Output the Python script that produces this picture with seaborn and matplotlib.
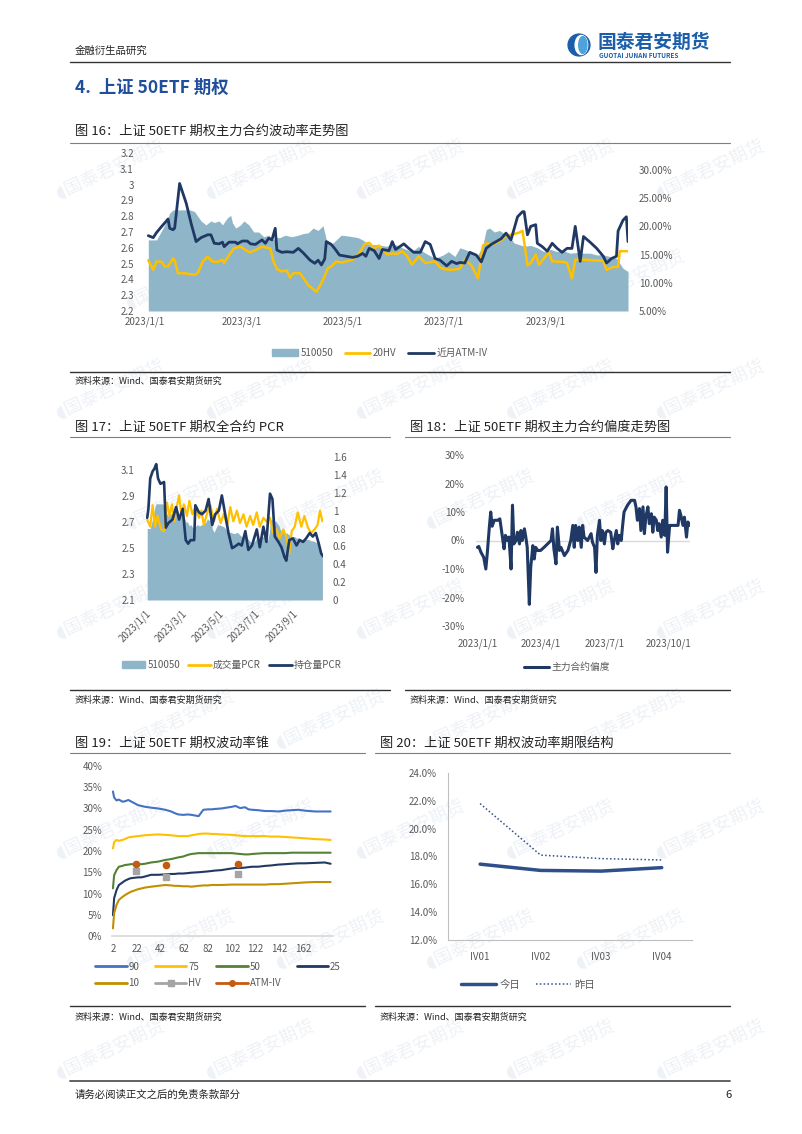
import numpy as np
import pandas as pd
import matplotlib
matplotlib.use("Agg")
import matplotlib.pyplot as plt
import seaborn as sns
from matplotlib.lines import Line2D
from matplotlib.patches import Patch, Circle, Ellipse

# ---------------- data ----------------
# 510050 ETF close, day offsets from 2023-01-03
etf_day = [0, 5, 10, 13, 15, 25, 28, 30, 32, 35, 38, 40, 43, 45, 48, 50, 51, 53, 56, 58, 61, 64, 67,
           70, 73, 76, 78, 80, 83, 87, 91, 94, 97, 100, 103, 106, 108, 111, 114, 117, 121, 124, 127,
           130, 134, 139, 144, 150, 154, 160, 164, 166, 170, 174, 179, 182, 186, 189, 192, 196, 200,
           203, 205, 207, 210, 213, 216, 219, 222, 225, 228, 232, 236, 240, 244, 248, 252, 256, 260,
           264, 268, 272, 276, 280, 284, 288, 291]
etf_px = [2.65, 2.65, 2.745, 2.82, 2.84, 2.84, 2.83, 2.80, 2.77, 2.745, 2.77, 2.76, 2.77, 2.745, 2.79,
          2.805, 2.76, 2.725, 2.745, 2.77, 2.745, 2.70, 2.70, 2.67, 2.68, 2.65, 2.665, 2.665, 2.68,
          2.67, 2.68, 2.69, 2.695, 2.725, 2.71, 2.74, 2.65, 2.62, 2.65, 2.68, 2.675, 2.67, 2.665,
          2.65, 2.62, 2.62, 2.61, 2.62, 2.60, 2.576, 2.61, 2.58, 2.555, 2.534, 2.555, 2.576, 2.545,
          2.60, 2.59, 2.57, 2.555, 2.62, 2.715, 2.725, 2.70, 2.71, 2.69, 2.67, 2.63, 2.62, 2.61,
          2.615, 2.60, 2.576, 2.59, 2.576, 2.58, 2.566, 2.57, 2.566, 2.566, 2.555, 2.555, 2.545,
          2.534, 2.47, 2.45]

# 20-day historical volatility (%)
hv_day = [0, 3, 5, 8, 10, 12, 15, 16, 18, 22, 28, 30, 33, 36, 39, 42, 45, 46, 49, 52, 56, 60, 62, 65,
          69, 74, 76, 78, 81, 84, 86, 88, 92, 97, 102, 104, 106, 109, 111, 114, 118, 124, 128, 131,
          134, 137, 140, 145, 148, 151, 154, 157, 160, 164, 168, 174, 177, 180, 184, 189, 192, 196,
          200, 203, 205, 209, 214, 217, 220, 225, 227, 228, 230, 232, 235, 237, 240, 243, 245, 252,
          254, 257, 259, 264, 276, 278, 282, 285, 286, 291]
hv_val = [14.0, 12.3, 13.75, 13.75, 12.9, 12.9, 14.3, 14.0, 11.7, 11.7, 11.4, 11.7, 13.75, 14.6,
          13.75, 13.7, 14.1, 13.5, 14.9, 16.1, 16.4, 15.6, 15.4, 15.8, 16.4, 16.1, 13.75, 12.45,
          12.0, 12.2, 10.9, 11.7, 11.7, 9.6, 8.4, 9.4, 10.5, 12.6, 12.9, 13.75, 13.6, 14.1, 15.2,
          16.8, 17.1, 16.1, 16.6, 15.0, 15.2, 15.1, 15.6, 14.7, 13.2, 14.7, 13.5, 13.8, 12.7, 12.4,
          12.3, 12.5, 14.1, 13.1, 10.8, 16.6, 17.0, 16.8, 17.5, 18.4, 18.5, 18.9, 19.2, 17.3, 13.1,
          13.5, 15.0, 13.2, 14.3, 15.4, 13.8, 13.7, 13.5, 10.8, 14.1, 14.1, 13.9, 12.3, 12.8, 12.8,
          15.6, 15.6]

# near-month ATM implied volatility (%)
iv_day = [0, 3, 5, 8, 11, 12, 13, 15, 16, 19, 23, 26, 29, 32, 36, 38, 40, 43, 45, 46, 49, 53, 54, 57,
          60, 62, 65, 67, 69, 71, 73, 75, 77, 78, 81, 84, 88, 91, 94, 98, 101, 103, 105, 107, 108,
          111, 113, 116, 120, 124, 127, 130, 132, 134, 137, 140, 142, 146, 148, 150, 155, 158, 161,
          165, 168, 171, 174, 177, 181, 184, 187, 189, 192, 195, 199, 202, 205, 208, 211, 214, 217,
          220, 224, 227, 228, 230, 232, 235, 236, 239, 242, 245, 248, 251, 254, 257, 259, 262, 264,
          268, 272, 276, 278, 281, 284, 285, 288, 290, 291]
iv_val = [18.35, 18.0, 18.9, 19.95, 20.96, 21.3, 19.66, 19.4, 19.7, 27.6, 24.1, 20.5, 17.3, 18.0,
          18.5, 18.5, 17.0, 16.9, 17.2, 16.4, 17.2, 17.2, 16.9, 17.4, 17.4, 16.9, 16.8, 17.2, 17.6,
          17.0, 17.9, 17.6, 19.66, 15.8, 15.4, 15.5, 15.4, 16.1, 15.3, 14.04, 13.45, 14.0, 13.16,
          14.2, 17.3, 16.8, 16.1, 14.9, 14.7, 14.5, 14.7, 15.2, 14.7, 16.1, 15.7, 14.3, 15.9, 15.7,
          17.3, 15.9, 16.9, 16.1, 15.4, 15.4, 17.3, 16.8, 14.3, 14.0, 13.0, 13.8, 13.4, 13.6, 13.5,
          15.4, 14.9, 13.7, 16.1, 16.8, 17.3, 17.8, 18.8, 17.6, 21.7, 22.6, 22.6, 18.5, 20.0, 20.3,
          17.0, 16.4, 15.6, 17.0, 16.1, 15.4, 16.1, 16.1, 20.0, 13.8, 18.2, 17.2, 16.1, 14.7, 13.5,
          14.3, 14.7, 19.2, 21.1, 21.7, 17.3]

# all-contract PCR
oi_day = [0, 2, 5, 9, 12, 15, 18, 22, 28, 31, 35, 42, 48, 53, 59, 64, 68, 72, 78, 80, 86, 91, 97, 102,
          108, 113, 119, 124, 130, 135, 141, 146, 152, 157, 163, 168, 174, 182, 187, 193, 198, 204,
          208, 212, 218, 223, 228, 231, 236, 242, 248, 253, 259, 264, 270, 275, 280, 285, 289, 292]
oi_pcr = [0.92, 1.02, 1.36, 1.44, 1.47, 1.52, 1.36, 1.30, 1.32, 0.81, 0.86, 0.90, 1.04, 0.90, 1.02,
          0.67, 0.63, 0.67, 0.67, 1.06, 0.98, 0.96, 1.00, 1.13, 0.84, 0.96, 1.00, 1.17, 0.94, 0.75,
          0.58, 0.60, 0.63, 0.61, 0.77, 0.56, 0.61, 0.79, 0.59, 0.82, 0.65, 1.19, 1.13, 0.71, 0.65,
          0.59, 0.48, 0.44, 0.67, 0.69, 0.61, 0.67, 0.65, 0.69, 0.75, 0.71, 0.75, 0.63, 0.52, 0.49]
vol_day = [0, 5, 9, 13, 17, 23, 28, 33, 37, 41, 45, 49, 53, 57, 61, 66, 70, 75, 80, 86, 90, 94, 100,
           105, 111, 116, 122, 127, 133, 138, 143, 149, 154, 160, 165, 171, 176, 182, 187, 193, 198,
           204, 209, 215, 220, 226, 231, 236, 240, 245, 250, 256, 261, 267, 272, 278, 283, 287, 291]
vol_pcr = [0.90, 0.82, 1.06, 0.82, 0.94, 0.79, 0.77, 1.09, 0.94, 1.07, 0.88, 1.04, 1.17, 0.94, 1.07,
           0.94, 1.11, 0.96, 1.04, 0.92, 1.00, 0.84, 0.98, 1.06, 0.88, 1.02, 0.86, 0.96, 0.84, 1.04,
           0.88, 1.00, 0.86, 0.96, 0.82, 0.94, 0.84, 0.98, 0.82, 0.92, 0.88, 0.92, 0.75, 0.79, 0.69,
           0.79, 0.71, 0.52, 0.77, 0.82, 0.98, 0.82, 0.94, 0.81, 0.75, 0.79, 0.84, 1.00, 0.88]

# main-contract skew (%), day offsets from 2023-01-01
skew_day = [0, 2, 5, 9, 12, 14, 17, 19, 21, 24, 29, 32, 36, 38, 40, 43, 45, 48, 50, 52, 55, 57, 60, 62,
            64, 67, 69, 71, 74, 76, 79, 81, 83, 86, 90, 95, 100, 105, 107, 109, 112, 114, 117, 119,
            124, 129, 133, 136, 138, 140, 143, 145, 148, 150, 152, 157, 162, 164, 167, 169, 171, 174,
            176, 178, 181, 183, 186, 190, 193, 195, 198, 200, 202, 205, 207, 209, 214, 219, 224, 226,
            228, 231, 233, 236, 238, 240, 243, 245, 248, 250, 252, 255, 257, 259, 262, 264, 267, 269,
            271, 274, 276, 281, 286, 288, 290, 293, 295, 298, 300, 302]
skew_val = [-2.4, -2.1, -4.1, -5.9, -10.0, -4.7, 4.7, 10.0, 5.0, 7.1, 7.1, 7.6, 0.6, -2.9, 1.8, 0.0,
            1.2, -10.0, 12.4, -1.2, 0.0, 2.9, -1.2, 3.5, 0.0, 4.1, 1.2, -2.4, -22.4, -9.4, -1.8,
            -6.5, -2.4, -3.5, -3.5, -2.4, -1.2, 0.0, 4.1, -2.9, -8.2, 4.7, -3.5, -2.4, -5.3, -3.5,
            0.0, 5.3, -2.4, 5.3, 0.0, 4.7, -2.4, 5.3, 1.2, 0.0, 2.4, -0.6, -2.4, -11.2, 1.8, 7.1,
            0.0, 3.5, -1.2, 2.9, 3.5, 2.9, -2.9, 0.0, 3.5, -1.2, 1.8, 0.0, 5.3, 10.0, 12.4, 14.1,
            14.1, 11.8, 7.1, 11.2, 3.5, 11.8, 2.4, 8.2, 11.8, 5.9, 9.4, 2.9, 8.2, 7.1, 3.5, 5.9, 1.2,
            7.1, 1.8, 18.8, -4.1, 5.3, 5.3, 5.3, 5.3, 10.6, 8.8, 5.3, 8.2, 1.2, 6.5, 5.3]

# volatility cone (%), x = days
cone_x = [2, 3, 5, 7, 10, 12, 15, 17, 23, 26, 29, 34, 40, 46, 51, 54, 57, 61, 65, 68, 74, 78, 82, 85,
          88, 93, 102, 105, 109, 113, 116, 119, 124, 130, 135, 141, 147, 152, 158, 163, 172, 180, 185]
cone_90 = [34.0, 32.6, 31.9, 32.1, 31.6, 31.7, 32.0, 31.7, 30.8, 30.6, 30.4, 30.2, 30.0, 29.7, 29.3,
           28.9, 28.6, 28.5, 28.6, 28.5, 28.2, 29.7, 29.8, 29.8, 29.9, 30.0, 30.4, 30.6, 30.1, 30.3,
           29.8, 29.7, 29.6, 29.4, 29.4, 29.3, 29.5, 29.6, 29.7, 29.5, 29.3, 29.3, 29.3]
cone_75 = [20.6, 22.1, 22.6, 22.4, 22.6, 22.8, 23.2, 23.3, 23.5, 23.6, 23.7, 23.8, 23.9, 23.8, 23.7,
           23.6, 23.5, 23.5, 23.5, 23.7, 24.0, 24.1, 24.1, 24.0, 24.0, 23.9, 23.8, 23.7, 23.6, 23.5,
           23.5, 23.5, 23.5, 23.5, 23.4, 23.4, 23.3, 23.2, 23.1, 23.0, 22.8, 22.7, 22.6]
cone_50 = [11.2, 14.3, 15.5, 16.3, 16.5, 16.7, 16.8, 16.9, 16.9, 16.9, 17.0, 17.3, 17.5, 17.9, 18.1,
           18.3, 18.5, 18.7, 19.1, 19.3, 19.5, 19.5, 19.5, 19.5, 19.5, 19.5, 19.5, 19.4, 19.3, 19.2,
           19.2, 19.3, 19.4, 19.5, 19.5, 19.5, 19.5, 19.6, 19.6, 19.6, 19.6, 19.6, 19.6]
cone_25 = [4.9, 8.9, 10.8, 12.0, 12.6, 13.0, 13.4, 13.6, 13.8, 13.8, 14.0, 14.4, 14.4, 14.5, 14.6,
           14.6, 14.7, 14.7, 14.8, 14.9, 15.0, 15.1, 15.2, 15.3, 15.4, 15.5, 15.9, 16.0, 16.0, 16.1,
           16.2, 16.3, 16.3, 16.5, 16.6, 16.8, 16.9, 17.0, 17.1, 17.1, 17.2, 17.3, 17.0]
cone_10 = [1.8, 5.4, 7.3, 8.5, 9.2, 9.6, 10.1, 10.4, 11.0, 11.2, 11.4, 11.6, 11.8, 12.0, 11.9, 11.8,
           11.8, 11.7, 11.7, 11.6, 11.8, 11.9, 11.9, 12.0, 12.0, 12.0, 12.1, 12.1, 12.1, 12.1, 12.1,
           12.1, 12.1, 12.1, 12.2, 12.2, 12.3, 12.4, 12.5, 12.6, 12.7, 12.7, 12.7]
hv_pt_x = [21, 47, 107]
hv_pt = [15.3, 13.8, 14.5]
atm_pt_x = [21, 47, 107]
atm_pt = [16.9, 16.7, 17.0]

# term structure
term_cat = ["IV01", "IV02", "IV03", "IV04"]
term_today = [17.45, 17.0, 16.95, 17.2]
term_yday = [21.8, 18.1, 17.85, 17.75]

# ---------------- style ----------------
sns.set_theme(style="white")
plt.rcParams["font.family"] = ["Noto Sans CJK SC", "DejaVu Sans"]
plt.rcParams["axes.unicode_minus"] = False

AREA = "#8FB6C8"
YEL = "#FFC000"
NAVY = "#1F3864"
GREY_T = "#595959"
W, H = 802, 1134

fig = plt.figure(figsize=(W / 100, H / 100), dpi=100)
fig.patch.set_facecolor("white")


def box(x0, y0, x1, y1):
    return [x0 / W, 1 - y1 / H, (x1 - x0) / W, (y1 - y0) / H]


def hline(y, x0, x1, color="#7f7f7f", lw=0.8):
    fig.add_artist(Line2D([x0 / W, x1 / W], [1 - y / H, 1 - y / H], color=color, lw=lw,
                          transform=fig.transFigure))


def ftext(x, y, s, **kw):
    kw.setdefault("va", "center")
    fig.text(x / W, 1 - y / H, s, **kw)


def clean(ax):
    for s in ax.spines.values():
        s.set_visible(False)
    ax.grid(False)
    ax.set_facecolor("none")
    ax.tick_params(length=0, labelsize=7, labelcolor=GREY_T)
    ax.set_xlabel("")
    ax.set_ylabel("")


def days(base, d):
    return pd.Timestamp(base) + pd.to_timedelta(d, unit="D")


# faint company watermark behind everything, kept inside the page
for r, wy in enumerate(range(170, 1060, 110)):
    for wx in range(110 + (r % 2) * 70, 720, 150):
        fig.text(wx / W, 1 - wy / H, "◖国泰君安期货", fontsize=13, color="#EEF2F6",
                 rotation=25, ha="center", va="center", zorder=-5,
                 family=["DejaVu Sans", "Noto Sans CJK SC"])

# ---------------- page header / footer ----------------
ftext(75, 51, "金融衍生品研究", fontsize=7.5, color="#222222")
lax = fig.add_axes(box(567, 33, 591, 57))
lax.set_xlim(-1.1, 1.1)
lax.set_ylim(-1.1, 1.1)
lax.set_aspect("equal")
lax.axis("off")
lax.add_patch(Circle((0, 0), 1, color="#1B5FAA"))
lax.add_patch(Ellipse((0.22, 0), 1.15, 1.75, color="white"))
lax.add_patch(Ellipse((0.35, 0), 0.75, 1.55, color="#4FA3DC"))
ftext(598, 42, "国泰君安期货", fontsize=13.5, color="#1B5FAA", fontweight="bold")
ftext(599, 55, "GUOTAI JUNAN FUTURES", fontsize=4.6, color="#1B5FAA", fontweight="bold")
hline(62, 70, 730, color="#333333", lw=1.0)

ftext(75, 88, "4.  上证 50ETF 期权", fontsize=12.5, color="#1F4E9C", fontweight="bold")

hline(1081, 70, 730, color="#555555", lw=1.3)
ftext(75, 1095, "请务必阅读正文之后的免责条款部分", fontsize=7.5, color="#222222")
ftext(725, 1095, "6", fontsize=8, color="#222222")

SRC = "资料来源：Wind、国泰君安期货研究"

# ---------------- 图16 ----------------
ftext(75, 131, "图 16：上证 50ETF 期权主力合约波动率走势图", fontsize=9.5, color="#222222")
hline(143, 70, 730)
ax = fig.add_axes(box(145, 153, 628, 311))
ax.fill_between(days("2023-01-03", etf_day), 2.2, etf_px, color=AREA, lw=0)
ax.set_ylim(2.2, 3.2)
yt = np.round(np.arange(2.2, 3.21, 0.1), 1)
ax.set_yticks(yt)
ax.set_yticklabels([f"{v:g}" for v in yt])
xt = pd.to_datetime(["2023-01-01", "2023-03-01", "2023-05-01", "2023-07-01", "2023-09-01"])
ax.set_xticks(xt)
ax.set_xticklabels([d.strftime("%Y/%-m/%-d") for d in xt])
ax.set_xlim(pd.Timestamp("2023-01-01"), pd.Timestamp("2023-10-21"))
ax2 = ax.twinx()
sns.lineplot(x=days("2023-01-03", hv_day), y=np.array(hv_val) / 100, ax=ax2, color=YEL, lw=1.8,
             estimator=None, sort=False)
sns.lineplot(x=days("2023-01-03", iv_day), y=np.array(iv_val) / 100, ax=ax2, color=NAVY, lw=2.0,
             estimator=None, sort=False)
ax2.set_ylim(0.05, 0.33)
rt = [0.05, 0.10, 0.15, 0.20, 0.25, 0.30]
ax2.set_yticks(rt)
ax2.set_yticklabels([f"{v:.2%}" for v in rt])
for a in (ax, ax2):
    clean(a)
ax.tick_params(axis="y", pad=8)
ax.tick_params(axis="x", pad=4)
ax2.tick_params(axis="y", pad=8)
fig.legend(handles=[Patch(color=AREA, label="510050"),
                    Line2D([], [], color=YEL, lw=2, label="20HV"),
                    Line2D([], [], color=NAVY, lw=2, label="近月ATM-IV")],
           loc="center", bbox_to_anchor=(380 / W, 1 - 353 / H), ncol=3, frameon=False,
           fontsize=7, handlelength=2.6, columnspacing=1.2, handletextpad=0.3,
           labelcolor=GREY_T)
hline(372, 70, 730, color="#333333", lw=1.0)
ftext(75, 381, SRC, fontsize=6.5, color="#222222")

# ---------------- 图17 ----------------
ftext(75, 427, "图 17：上证 50ETF 期权全合约 PCR", fontsize=9.5, color="#222222")
hline(437, 70, 390)
ax = fig.add_axes(box(146, 457, 323, 600))
ax.fill_between(days("2023-01-03", etf_day), 2.1, etf_px, color=AREA, lw=0)
ax.set_ylim(2.1, 3.2)
yt = np.round(np.arange(2.1, 3.11, 0.2), 1)
ax.set_yticks(yt)
ax.set_yticklabels([f"{v:g}" for v in yt])
ax.set_xticks(xt)
ax.set_xticklabels([d.strftime("%Y/%-m/%-d") for d in xt], rotation=45, ha="right",
                   rotation_mode="anchor")
ax.set_xlim(pd.Timestamp("2023-01-01"), pd.Timestamp("2023-10-22"))
ax2 = ax.twinx()
sns.lineplot(x=days("2023-01-03", vol_day), y=vol_pcr, ax=ax2, color=YEL, lw=1.6,
             estimator=None, sort=False)
sns.lineplot(x=days("2023-01-03", oi_day), y=oi_pcr, ax=ax2, color=NAVY, lw=1.9,
             estimator=None, sort=False)
ax2.set_ylim(0, 1.6)
rt = np.round(np.arange(0, 1.61, 0.2), 1)
ax2.set_yticks(rt)
ax2.set_yticklabels([f"{v:g}" for v in rt])
for a in (ax, ax2):
    clean(a)
ax.tick_params(axis="y", pad=8)
ax.tick_params(axis="x", pad=6)
ax2.tick_params(axis="y", pad=7)
fig.legend(handles=[Patch(color=AREA, label="510050"),
                    Line2D([], [], color=YEL, lw=2, label="成交量PCR"),
                    Line2D([], [], color=NAVY, lw=2, label="持仓量PCR")],
           loc="center", bbox_to_anchor=(232 / W, 1 - 665 / H), ncol=3, frameon=False,
           fontsize=7, handlelength=2.4, columnspacing=0.8, handletextpad=0.2,
           labelcolor=GREY_T)
hline(690, 70, 390, color="#333333", lw=1.0)
ftext(75, 700, SRC, fontsize=6.5, color="#222222")

# ---------------- 图18 ----------------
ftext(410, 427, "图 18：上证 50ETF 期权主力合约偏度走势图", fontsize=9.5, color="#222222")
hline(437, 405, 730)
ax = fig.add_axes(box(476, 455, 690, 626))
ax.axhline(0, color="#D9D9D9", lw=1.0)
sns.lineplot(x=days("2023-01-01", skew_day), y=np.array(skew_val) / 100, ax=ax, color=NAVY,
             lw=2.2, estimator=None, sort=False)
ax.set_ylim(-0.30, 0.30)
yt = np.round(np.arange(-0.3, 0.31, 0.1), 1)
ax.set_yticks(yt)
ax.set_yticklabels([f"{v:.0%}" for v in yt])
xt4 = pd.to_datetime(["2023-01-01", "2023-04-01", "2023-07-01", "2023-10-01"])
ax.set_xticks(xt4)
ax.set_xticklabels([d.strftime("%Y/%-m/%-d") for d in xt4])
ax.set_xlim(pd.Timestamp("2022-12-30"), pd.Timestamp("2023-10-31"))
clean(ax)
ax.tick_params(axis="y", pad=8)
ax.tick_params(axis="x", pad=9)
fig.legend(handles=[Line2D([], [], color=NAVY, lw=2.2, label="主力合约偏度")],
           loc="center", bbox_to_anchor=(567 / W, 1 - 667 / H), frameon=False, fontsize=7,
           handlelength=2.6, handletextpad=0.3, labelcolor=GREY_T)
hline(690, 405, 730, color="#333333", lw=1.0)
ftext(410, 700, SRC, fontsize=6.5, color="#222222")

# ---------------- 图19 ----------------
ftext(75, 743, "图 19：上证 50ETF 期权波动率锥", fontsize=9.5, color="#222222")
hline(753, 70, 365)
ax = fig.add_axes(box(112, 766, 333, 936))
cone = [("90", cone_90, "#4472C4"), ("75", cone_75, "#FFC000"), ("50", cone_50, "#548235"),
        ("25", cone_25, "#203864"), ("10", cone_10, "#BF9000")]
for name, vals, col in cone:
    sns.lineplot(x=cone_x, y=np.array(vals) / 100, ax=ax, color=col, lw=1.5, estimator=None,
                 sort=False)
ax.scatter(hv_pt_x, np.array(hv_pt) / 100, marker="s", s=22, color="#A5A5A5", zorder=5)
ax.scatter(atm_pt_x, np.array(atm_pt) / 100, marker="o", s=20, color="#C55A11", zorder=5)
ax.set_ylim(0, 0.40)
yt = np.round(np.arange(0, 0.401, 0.05), 2)
ax.set_yticks(yt)
ax.set_yticklabels([f"{v:.0%}" for v in yt])
ax.set_xticks(range(2, 163, 20))
ax.set_xlim(1.2, 187)
clean(ax)
ax.spines["bottom"].set_visible(True)
ax.spines["bottom"].set_color("#D9D9D9")
ax.tick_params(axis="y", pad=7)
ax.tick_params(axis="x", pad=6)
hd = {name: Line2D([], [], color=col, lw=2, label=name) for name, _, col in cone}
hd["HV"] = Line2D([], [], color="#A5A5A5", lw=2, marker="s", ms=4, label="HV")
hd["ATM-IV"] = Line2D([], [], color="#C55A11", lw=2, marker="o", ms=4, label="ATM-IV")
order = ["90", "10", "75", "HV", "50", "ATM-IV", "25"]
fig.legend(handles=[hd[k] for k in order], loc="center",
           bbox_to_anchor=(218 / W, 1 - 975 / H), ncol=4, frameon=False, fontsize=7,
           handlelength=3.2, handletextpad=0.2, columnspacing=1.6, labelspacing=0.7,
           labelcolor=GREY_T)
hline(1006, 70, 365, color="#333333", lw=1.0)
ftext(75, 1017, SRC, fontsize=6.5, color="#222222")

# ---------------- 图20 ----------------
ftext(380, 743, "图 20：上证 50ETF 期权波动率期限结构", fontsize=9.5, color="#222222")
hline(753, 375, 730)
ax = fig.add_axes(box(448, 773, 692, 940))
xi = np.arange(len(term_cat))
sns.lineplot(x=xi, y=np.array(term_today) / 100, ax=ax, color="#2F4F8A", lw=2.5,
             estimator=None, sort=False)
sns.lineplot(x=xi, y=np.array(term_yday) / 100, ax=ax, color="#2F4F8A", lw=1.1,
             linestyle=(0, (1, 1.5)), estimator=None, sort=False)
ax.set_ylim(0.12, 0.24)
yt = np.round(np.arange(0.12, 0.241, 0.02), 2)
ax.set_yticks(yt)
ax.set_yticklabels([f"{v:.1%}" for v in yt])
ax.set_xlim(-0.53, 3.49)
ax.set_xticks(xi)
ax.set_xticklabels(term_cat)
clean(ax)
for s in ("left", "bottom"):
    ax.spines[s].set_visible(True)
    ax.spines[s].set_color("#BFBFBF")
    ax.spines[s].set_linewidth(0.8)
ax.set_xticks(np.arange(-0.5, 3.6, 1), minor=True)
ax.tick_params(axis="x", which="minor", length=4, color="#BFBFBF", direction="out")
ax.tick_params(axis="y", which="major", length=3, color="#BFBFBF", direction="out", pad=5)
ax.tick_params(axis="x", which="major", pad=9)
fig.legend(handles=[Line2D([], [], color="#2F4F8A", lw=2.5, label="今日"),
                    Line2D([], [], color="#2F4F8A", lw=1.1, ls=(0, (1, 1.5)), label="昨日")],
           loc="center", bbox_to_anchor=(528 / W, 1 - 985 / H), ncol=2, frameon=False,
           fontsize=7.5, handlelength=3.4, handletextpad=0.3, columnspacing=1.5,
           labelcolor=GREY_T)
hline(1006, 375, 730, color="#333333", lw=1.0)
ftext(380, 1017, SRC, fontsize=6.5, color="#222222")

fig.savefig("out.png", dpi=100, facecolor="white")
